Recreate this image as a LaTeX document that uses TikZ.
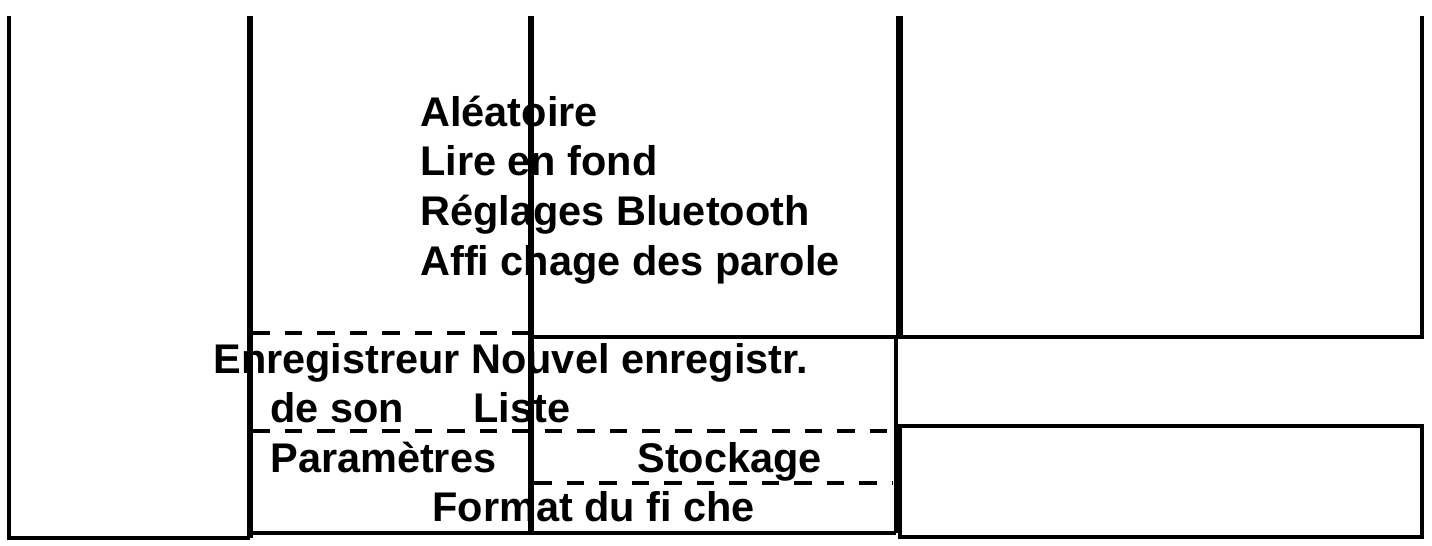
\documentclass[tikz,border=0pt]{standalone}
\usepackage{fontspec}
\setmainfont{Liberation Sans}
\usepackage{tikz}

\tikzset{
  frame/.style = {line width = 2.2pt},
  heavy/.style = {line width = 3.5pt},
  sep/.style = {line width = 1.9pt, dash pattern = on 10pt off 8.5pt},
  item/.style = {anchor = base west, inner sep = 0, font = \bfseries\fontsize{23.6}{28}\selectfont}
}

\begin{document}
\begin{tikzpicture}[x = 0.02cm, y = -0.02cm]
  \useasboundingbox (0, 0) rectangle (1432, 545);
  \draw[frame] (9, 16) -- (9, 538) -- (250, 538);
  \draw[heavy] (250, 16) -- (250, 538);
  \draw[heavy] (531, 16) -- (531, 533);
  \draw[frame] (250, 533) -- (896, 533);
  \draw[sep] (252, 333) -- (528, 333);
  \draw[frame] (531, 337) -- (1422, 337) -- (1422, 16);
  \draw[line width = 4pt] (899, 16) -- (899, 337);
  \draw[frame] (896, 337) -- (896, 533);
  \draw[frame] (900, 426) rectangle (1422, 537);
  \draw[sep] (252, 431) -- (893, 431);
  \draw[sep] (534, 483) -- (893, 483);
  \node[item] (alea) at (420, 126) {Aléatoire};
  \node[item] (fond) at (420, 175) {Lire en fond};
  \node[item] (bt) at (420, 225) {Réglages Bluetooth};
  \node[item] (paroles) at (420, 275) {Affi chage des parole};
  \node[item] (enreg) at (213, 373) {Enregistreur Nouvel enregistr.};
  \node[item] (son) at (270, 422) {de son};
  \node[item] (liste) at (473, 422) {Liste};
  \node[item] (param) at (270, 472) {Paramètres};
  \node[item] (stock) at (637, 472) {Stockage};
  \node[item] (format) at (432, 521) {Format du fi che};
\end{tikzpicture}
\end{document}
